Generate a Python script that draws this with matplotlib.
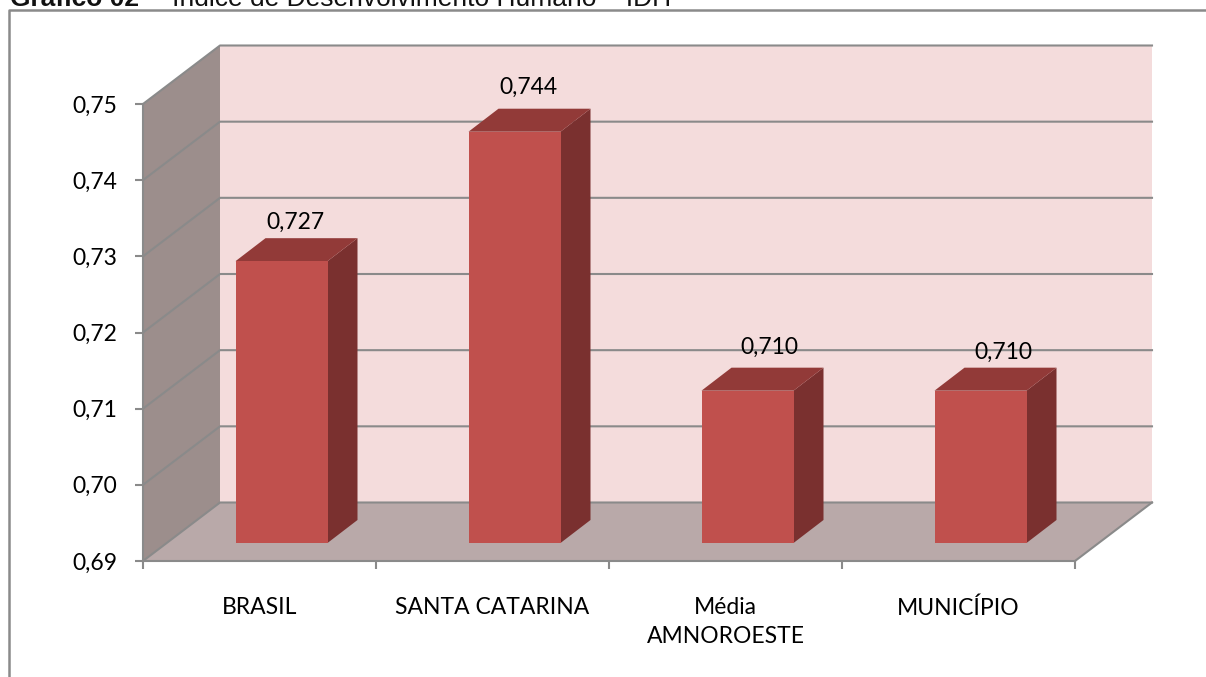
import matplotlib
matplotlib.use("Agg")
import matplotlib.pyplot as plt
from matplotlib.patches import Polygon, Rectangle

categories = ["BRASIL", "SANTA CATARINA", "Média\nAMNOROESTE", "MUNICÍPIO"]
values = [0.727, 0.744, 0.710, 0.710]
value_labels = ["0,727", "0,744", "0,710", "0,710"]
y_ticks = [0.69, 0.70, 0.71, 0.72, 0.73, 0.74, 0.75]
y_tick_labels = ["0,69", "0,70", "0,71", "0,72", "0,73", "0,74", "0,75"]
title_bold = "Gráfico 02"
title_rest = "Índice de Desenvolvimento Humano – IDH"

W, H = 1206, 677
FONT = "Lato"
GRID = "#8a8a8a"
fig = plt.figure(figsize=(W / 100, H / 100), dpi=100, facecolor="white")
ax = fig.add_axes([143 / W, (H - 561) / H, 932 / W, 457 / H])
y0, y1 = y_ticks[0], y_ticks[-1]
ax.set_xlim(0, len(categories))
ax.set_ylim(y0, y1)
ax.patch.set_visible(False)
for s in ["top", "right"]:
    ax.spines[s].set_visible(False)
for s in ["left", "bottom"]:
    ax.spines[s].set_color(GRID)
    ax.spines[s].set_linewidth(1.5)

# oblique depth of the chart box and of the bars, in data units
px, py = 4 / 932, 0.06 / 457
dx, dy = 77 * px, 58.5 * py
sx, sy = 22 * px, 18 * py
bx, by = 30 * px, 23 * py
bw = 92 * px
n = len(categories)

kw = dict(clip_on=False)
ax.add_patch(Polygon([(dx, y0 + dy), (n + dx, y0 + dy), (n + dx, y1 + dy), (dx, y1 + dy)],
                     fc="#f4dcdc", ec="none", zorder=1, **kw))
ax.add_patch(Polygon([(0, y0), (dx, y0 + dy), (dx, y1 + dy), (0, y1)],
                     fc="#9c8e8c", ec="none", zorder=1, **kw))
ax.add_patch(Polygon([(0, y0), (n, y0), (n + dx, y0 + dy), (dx, y0 + dy)],
                     fc="#b9a9a9", ec="none", zorder=1, **kw))
for t in y_ticks:
    ax.plot([0, dx, n + dx], [t, t + dy, t + dy], color=GRID, lw=1.5, zorder=2, **kw)
ax.plot([n, n + dx], [y0, y0 + dy], color=GRID, lw=1.5, zorder=2, **kw)

label_offsets = [(14, 39), (14, 44), (22, 43), (23, 38)]
for i, v in enumerate(values):
    left = i + 0.5 - bw / 2 + sx
    right = left + bw
    base = y0 + sy
    top = v + sy
    ax.add_patch(Polygon([(right, base), (right + bx, base + by), (right + bx, top + by), (right, top)],
                         fc="#7a302f", ec="none", zorder=3, **kw))
    ax.add_patch(Polygon([(left, top), (right, top), (right + bx, top + by), (left + bx, top + by)],
                         fc="#923a38", ec="none", zorder=3, **kw))
    ax.add_patch(Rectangle((left, base), bw, v - y0, fc="#c0504d", ec="none", zorder=4, **kw))
    ax.annotate(value_labels[i], (i + 0.5 + sx, top), xytext=label_offsets[i], textcoords="offset pixels",
                ha="center", va="center", fontsize=16.5, family=FONT, color="black", zorder=6)

ax.set_xticks(range(n + 1), [""] * (n + 1))
ax.set_xticks([i + 0.5 for i in range(n)], categories, minor=True)
ax.tick_params(axis="x", which="major", length=5.5, width=1.5, color=GRID)
ax.tick_params(axis="x", which="minor", length=0, pad=26, labelsize=16.5)
ax.set_yticks(y_ticks, y_tick_labels)
ax.tick_params(axis="y", length=5.5, width=1.5, color=GRID, labelsize=16.5, pad=13)
for lab in ax.get_xticklabels(minor=True) + ax.get_yticklabels():
    lab.set_family(FONT)
    lab.set_linespacing(1.48)

# outer frame, cut off by the image edges
fig.add_artist(plt.Line2D([9 / W, 9 / W, 1], [0, (H - 10) / H, (H - 10) / H], color="#8a8a8a", lw=1.8))

# title, cropped by the top edge as in the reference
fig.text(10 / W, (H - 6) / H, title_bold, family="Liberation Sans", weight="bold", fontsize=19,
         va="baseline", color="#111111")
fig.text(148 / W, (H - 6) / H, "–", family="Liberation Sans", fontsize=19, va="baseline", color="#111111")
fig.text(172 / W, (H - 6) / H, title_rest, family="Liberation Sans", fontsize=19,
         va="baseline", color="#111111")

fig.savefig("out.png", dpi=100)
